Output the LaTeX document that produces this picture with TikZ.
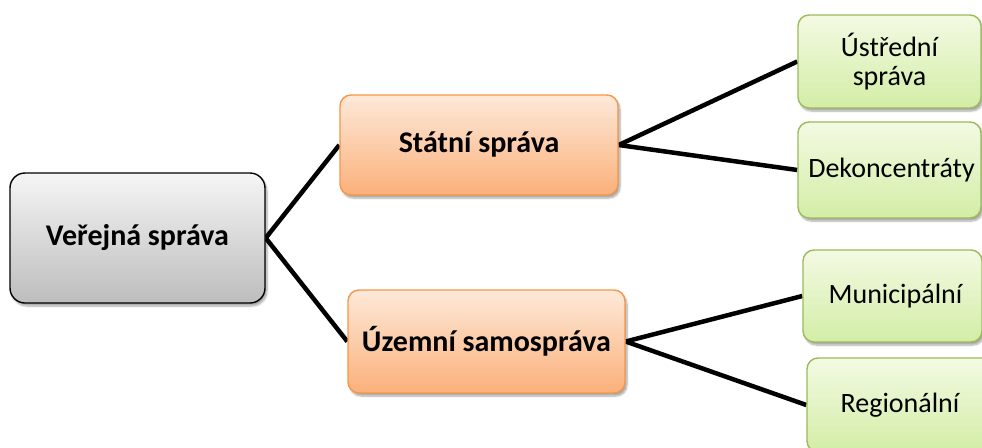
\documentclass[tikz,border=0pt]{standalone}
\usepackage{fontspec}
\setmainfont{Carlito}
\usetikzlibrary{shadows.blur,backgrounds}
\definecolor{greytop}{HTML}{F5F5F5}
\definecolor{greybot}{HTML}{BDBDBD}
\definecolor{orgtop}{HTML}{FDE9D9}
\definecolor{orgbot}{HTML}{FBB07A}
\definecolor{orgline}{HTML}{F79646}
\definecolor{grntop}{HTML}{F3FAE3}
\definecolor{grnbot}{HTML}{D3EDA6}
\definecolor{grnline}{HTML}{9BBB59}
\tikzset{
  boxbase/.style={rectangle, align=center, inner sep=0pt,
    blur shadow={shadow xshift=2pt, shadow yshift=-3pt, shadow opacity=35, shadow blur steps=6}},
  rootbox/.style={boxbase, draw=black, line width=1.4pt, rounded corners=15pt,
    top color=greytop, bottom color=greybot, font=\fontsize{30}{34}\selectfont\bfseries},
  midbox/.style={boxbase, draw=orgline, line width=1.4pt, rounded corners=11pt,
    top color=orgtop, bottom color=orgbot, font=\fontsize{30}{34}\selectfont\bfseries},
  leafbox/.style={boxbase, draw=grnline, line width=1.4pt, rounded corners=11pt,
    top color=grntop, bottom color=grnbot, font=\fontsize{28}{29}\selectfont},
  conn/.style={draw=black, line width=4.5pt}
}
\begin{document}
\begin{tikzpicture}[x=1pt,y=-1pt]
\useasboundingbox (0,0) rectangle (982,447);
\node[rootbox, minimum width=255pt, minimum height=130pt] (V) at (137.5,238) {Veřejná správa};
\node[midbox, minimum width=278pt, minimum height=100pt] (S) at (479,145) {Státní správa};
\node[midbox, minimum width=277pt, minimum height=103pt] (U) at (486.5,341.5) {Územní samospráva};
\node[leafbox, minimum width=183pt, minimum height=93pt] (Ust) at (889.5,61.5) {Ústřední\\správa};
\node[leafbox, minimum width=183pt, minimum height=96pt] (Dek) at (889.5,170) {\hspace*{4pt}Dekoncentráty};
\node[leafbox, minimum width=179pt, minimum height=92pt] (Mun) at (892.5,296) {\hspace*{6pt}Municipální};
\node[leafbox, minimum width=186pt, minimum height=94pt] (Reg) at (900,405) {Regionální};
\begin{scope}[on background layer]
\draw[conn] (V.east) -- (S.west);
\draw[conn] (V.east) -- (U.west);
\draw[conn] (S.east) -- (Ust.west);
\draw[conn] (S.east) -- (Dek.west);
\draw[conn] (U.east) -- (Mun.west);
\draw[conn] (U.east) -- (Reg.west);
\end{scope}
\end{tikzpicture}
\end{document}
